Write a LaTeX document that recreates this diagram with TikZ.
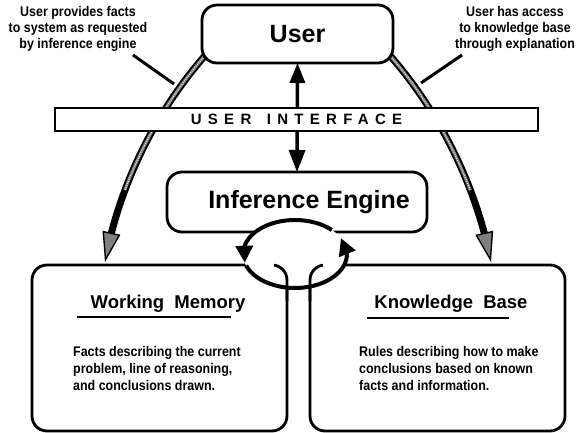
\documentclass[tikz,border=0pt]{standalone}
\usepackage{fontspec}
\setmainfont{Liberation Sans}
\newfontfamily\narrowfont{Liberation Sans}[FakeStretch=0.89]
\newfontfamily\spacedfont{Liberation Sans}[LetterSpace=42]
\usetikzlibrary{arrows.meta,bending}

\begin{document}
\begin{tikzpicture}[x=1pt,y=-1pt,
  roundbox/.style={draw, line width=2.8pt, rounded corners=15pt, fill=white,
    inner sep=0pt, outer sep=0pt},
  boxline/.style={line width=2.8pt, rounded corners=15pt},
  bigtext/.style={font=\bfseries\fontsize{25}{30}\selectfont},
  boxtitle/.style={font=\bfseries\fontsize{18.5}{22}\selectfont, inner sep=0pt},
  bodytext/.style={font=\narrowfont\bfseries\fontsize{14}{16.8}\selectfont,
    align=left, inner sep=0pt},
  notetext/.style={font=\narrowfont\bfseries\fontsize{14}{16}\selectfont,
    align=center, inner sep=0pt},
  uibar/.style={draw, line width=2.4pt, fill=white, inner sep=0pt, outer sep=0pt,
    minimum width=483pt, minimum height=23pt,
    font=\spacedfont\bfseries\fontsize{15}{18}\selectfont},
  bandouter/.style={line width=7pt, black,
    -{Triangle[length=30pt,width=18pt,line width=1.4pt,fill=black!50]}},
  bandinner/.style={line width=3pt, black!50},
  bandspeck/.style={line width=1pt, white, dash pattern=on 0.7pt off 1.4pt},
  pointer/.style={line width=3pt},
  dblarrow/.style={line width=3.5pt,
    {Triangle[length=20pt,width=15pt]}-{Triangle[length=22pt,width=16pt]}},
  cyclearc/.style={line width=4pt, -{Triangle[length=17pt,width=17pt]}},
  uline/.style={line width=2.5pt}
]
\useasboundingbox (0,0) rectangle (581,433);

% user-to-memory and user-to-knowledge bands
\draw[bandouter] (210,50) .. controls (160,105) and (120,180) .. (105,262);
\draw[bandinner] (210,50) .. controls (175,88.5) and (144.9,136.8) .. (124.8,190.2);
\draw[bandspeck] (210,50) .. controls (175,88.5) and (144.9,136.8) .. (124.8,190.2);
\draw[bandouter] (385,50) .. controls (435,105) and (475,180) .. (491,262);
\draw[bandinner] (385,50) .. controls (420,88.5) and (450.1,136.8) .. (470.2,190.2);
\draw[bandspeck] (385,50) .. controls (420,88.5) and (450.1,136.8) .. (470.2,190.2);

% side notes and their pointers
\node[notetext] (noteleft) at (78,29)
  {User provides facts\\to system as requested\\by inference engine};
\node[notetext] (noteright) at (515,29)
  {User has access\\to knowledge base\\through explanation};
\coordinate (pla) at (133,55);
\coordinate (plb) at (174,84);
\coordinate (pra) at (462,55);
\coordinate (prb) at (421,83);
\draw[pointer] (pla) -- (plb);
\draw[pointer] (pra) -- (prb);

% main boxes
\node[roundbox, minimum width=191pt, minimum height=58pt, bigtext] (user)
  at (297.5,34) {User};
\node[roundbox, minimum width=260pt, minimum height=60pt, bigtext] (ie)
  at (297,202) {\hspace*{24pt}Inference Engine};
\node[roundbox, minimum width=255pt, minimum height=166pt] (wm) at (159.5,348) {};
\node[roundbox, minimum width=255pt, minimum height=166pt] (kb) at (437.5,348) {};

% user <-> inference engine
\draw[dblarrow] (user.south) -- (ie.north);

% interface bar
\node[uibar] (ui) at (296.5,119.5) {USER\hspace{5pt} INTERFACE};

% box contents
\node[boxtitle, anchor=base] (wmtitle) at (168,308) {Working\hspace{5pt} Memory};
\draw[uline] (77,317) -- (231,317);
\node[bodytext, anchor=north west] (wmbody) at (73,346.5)
  {Facts describing the current\\problem, line of reasoning,\\and conclusions drawn.};
\node[boxtitle, anchor=base] (kbtitle) at (451,308) {Knowledge\hspace{5pt} Base};
\draw[uline] (367,318) -- (509,318);
\node[bodytext, anchor=north west] (kbbody) at (359,346.5)
  {Rules describing how to make\\conclusions based on known\\facts and information.};

% inference cycle
\coordinate (cyc) at (295,254);
\fill[white] (cyc) ellipse [x radius=52pt, y radius=34pt];
\begin{scope}
  \clip (274,250) rectangle (300,300);
  \draw[boxline] (wm.north west) rectangle (wm.south east);
\end{scope}
\begin{scope}
  \clip (295,250) rectangle (323,300);
  \draw[boxline] (kb.north west) rectangle (kb.south east);
\end{scope}
\draw[cyclearc] (cyc) ++(45:52pt and 34pt)
  arc[start angle=45, end angle=195, x radius=52pt, y radius=34pt];
\draw[cyclearc] (cyc) ++(200:52pt and 34pt)
  arc[start angle=200, end angle=388, x radius=52pt, y radius=34pt];
\end{tikzpicture}
\end{document}
